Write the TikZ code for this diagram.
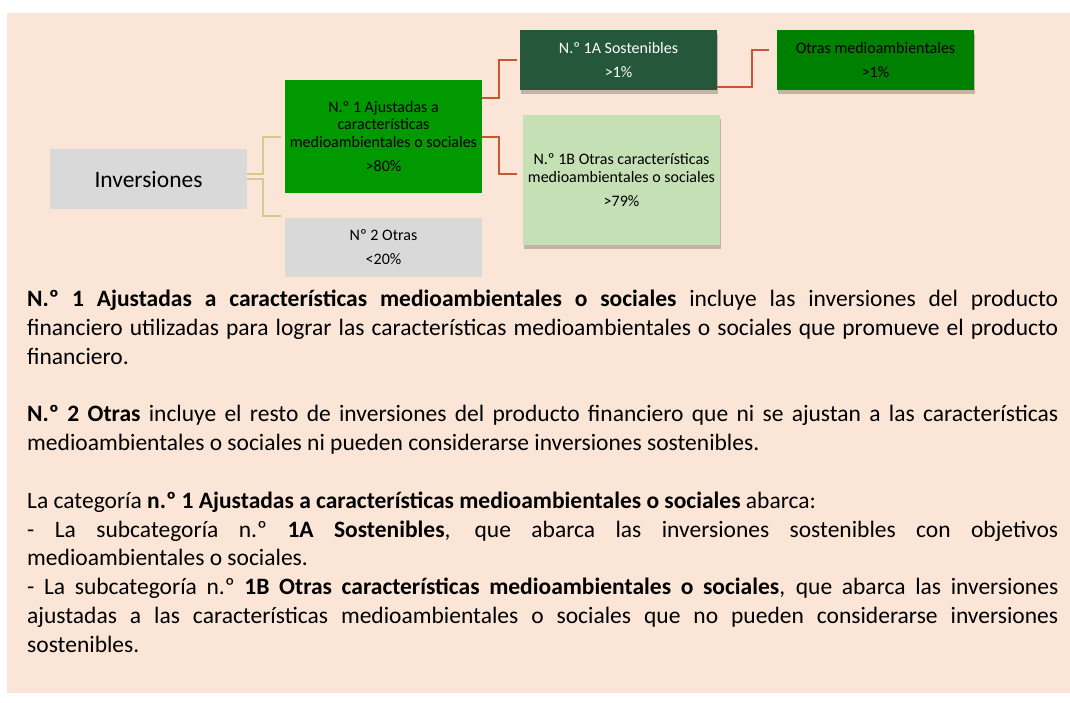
\documentclass[tikz,border=0pt]{standalone}
\usepackage{fontspec}
\setmainfont{Carlito}
\usepackage{xcolor}
\usepackage{tikz}
\usetikzlibrary{calc, shadows}
\definecolor{bgcolor}{RGB}{251, 229, 214}
\definecolor{invcolor}{RGB}{217, 217, 217}
\definecolor{ajustcolor}{RGB}{0, 153, 0}
\definecolor{sostcolor}{RGB}{37, 87, 58}
\definecolor{medioacolor}{RGB}{0, 128, 0}
\definecolor{caraccolor}{RGB}{197, 224, 180}
\definecolor{linktan}{RGB}{214, 201, 143}
\definecolor{linkred}{RGB}{200, 85, 52}
\setlength{\parindent}{0pt}
\tolerance=10000
\hyphenpenalty=10000
\exhyphenpenalty=10000

\begin{document}
\begin{tikzpicture}[x=1pt, y=-1pt,
    box/.style={minimum width=197pt, inner sep=0pt, align=center, font=\fontsize{16}{17.5}\selectfont},
    shadowbox/.style={box, drop shadow={shadow xshift=1pt, shadow yshift=-4pt, fill=black, opacity=0.22}},
    tanline/.style={draw=linktan, line width=2pt},
    redline/.style={draw=linkred, line width=2pt}]
    % Background
    \useasboundingbox[fill=white] (0,0) rectangle (1070,702);
    \fill[bgcolor] (7,13) rectangle (1070,693);

    % Root
    \node[box, fill=invcolor, minimum height=60pt, font=\fontsize{23.5}{28}\selectfont] (inv) at (148.5,179) {Inversiones};

    % First level
    \node[box, fill=ajustcolor, minimum height=113pt] (ajust) at (383.5,136.5) {N.º 1 Ajustadas a\\características\\medioambientales o sociales\\[6.5pt]>80\%};
    \node[box, fill=invcolor, minimum height=59pt] (otras) at (383.5,247.5) {Nº 2 Otras\\[6.5pt]<20\%};

    % Second level
    \node[shadowbox, fill=sostcolor, text=white, minimum height=60pt] (sost) at (618.5,60) {N.º 1A Sostenibles\\[6.5pt]>1\%};
    \node[shadowbox, fill=caraccolor, minimum height=130pt] (carac) at (621.5,180) {N.º 1B Otras características\\medioambientales o sociales\\[6.5pt]>79\%};

    % Third level
    \node[shadowbox, fill=medioacolor, minimum height=60pt] (medioa) at (875.5,60) {Otras medioambientales\\[6.5pt]>1\%};

    % Connectors
    \draw[tanline] ($(inv.east)+(0,-5)$) -- ++(16,0) |- ([xshift=-4pt]ajust.west);
    \draw[tanline] (inv.east) -- ++(16,0) |- ($(otras.north west)+(-4,-2)$);
    \draw[redline] ($(ajust.north east)+(0,18)$) -- ++(17,0) |- ([xshift=-3pt]sost.west);
    \draw[redline] (ajust.east) -- ++(17,0) |- ($(carac.west)+(-6,-6)$);
    \draw[redline] ($(sost.south east)+(0,-3)$) -- ++(35,0) |- ($(medioa.west)+(-8,-10)$);

    % Explanation
    \node[anchor=north west, inner sep=0pt, text width=1031pt, align=justify, font=\fontsize{23.5}{28.8}\selectfont] (expl) at (27,290) {\textbf{N.º 1 Ajustadas a características medioambientales o sociales} incluye las inversiones del producto\linebreak financiero utilizadas para lograr las características medioambientales o sociales que promueve el producto\linebreak financiero.\par\vspace{28.8pt}
    \textbf{N.º 2 Otras} incluye el resto de inversiones del producto financiero que ni se ajustan a las características\linebreak medioambientales o sociales ni pueden considerarse inversiones sostenibles.\par\vspace{28.8pt}
    La categoría \textbf{n.º 1 Ajustadas a características medioambientales o sociales} abarca:\par
    - La subcategoría n.º \textbf{1A Sostenibles}, que abarca las inversiones sostenibles con objetivos\linebreak medioambientales o sociales.\par
    - La subcategoría n.º \textbf{1B Otras características medioambientales o sociales}, que abarca las inversiones\linebreak ajustadas a las características medioambientales o sociales que no pueden considerarse inversiones\linebreak sostenibles.};
\end{tikzpicture}
\end{document}
